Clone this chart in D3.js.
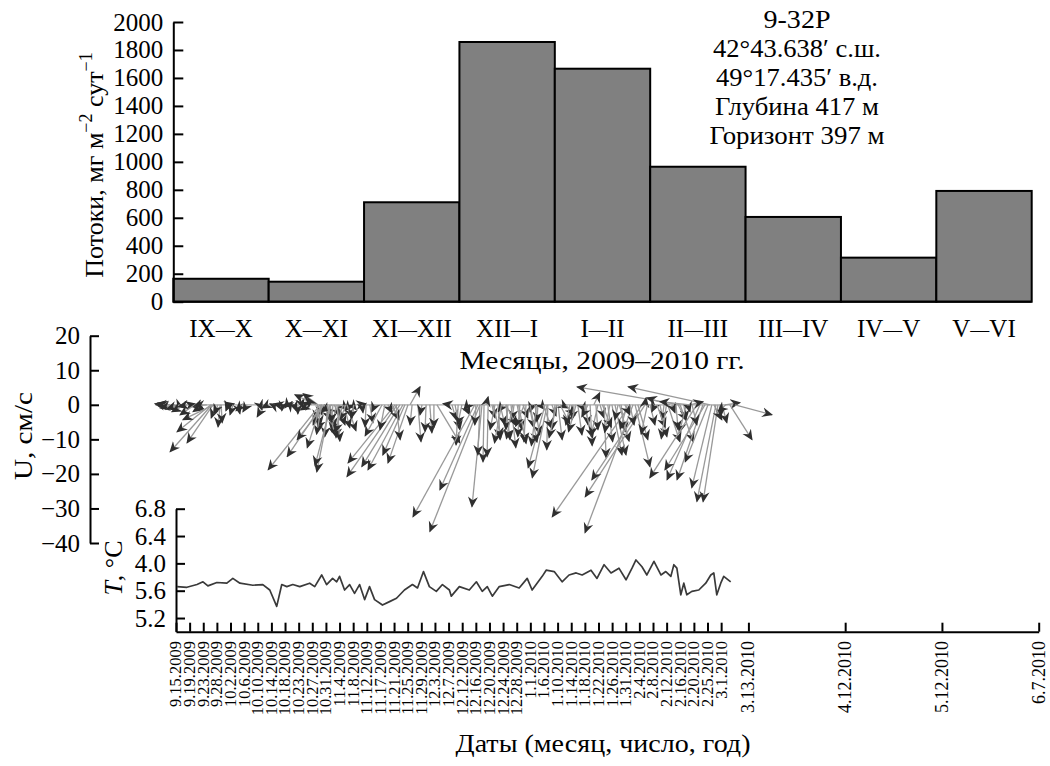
<!DOCTYPE html>
<html>
<head>
<meta charset="utf-8">
<script src="https://cdn.jsdelivr.net/npm/d3@7"></script>
<style>
  html, body { margin: 0; padding: 0; background: #fff; }
  svg { display: block; }
  text { font-family: "Liberation Serif", "Times New Roman", serif; fill: #000; }
</style>
</head>
<body>
<div id="chart"></div>
<script>
// ---------------- DATA ----------------
const categories = ["IX–X", "X–XI", "XI–XII", "XII–I", "I–II", "II–III", "III–IV", "IV–V", "V–VI"];
const fluxValues = [164, 143, 711, 1857, 1666, 965, 606, 315, 792];
const fluxTicks = [0, 200, 400, 600, 800, 1000, 1200, 1400, 1600, 1800, 2000];

const stationLines = ["9-32P", "42°43.638′ с.ш.", "49°17.435′ в.д.", "Глубина 417 м", "Горизонт 397 м"];
const stationWidths = [67, 168, 162, 164, 175];

const uTicks = [20, 10, 0, -10, -20, -30, -40];

const tTickValues = [5.2, 5.6, 6.0, 6.4, 6.8];
const tTickLabels = ["5.2", "5.6", "4.0", "6.4", "6.8"];

const dateLabels = ["9.15.2009","9.19.2009","9.23.2009","9.28.2009","10.2.2009","10.6.2009","10.10.2009",
  "10.14.2009","10.18.2009","10.23.2009","10.27.2009","10.31.2009","11.4.2009","11.8.2009","11.12.2009",
  "11.17.2009","11.21.2009","11.25.2009","11.29.2009","12.3.2009","12.7.2009","12.12.2009","12.16.2009",
  "12.20.2009","12.24.2009","12.28.2009","1.1.2010","1.6.2010","1.10.2010","1.14.2010","1.18.2010",
  "1.22.2010","1.26.2010","1.31.2010","2.4.2010","2.8.2010","2.12.2010","2.16.2010","2.20.2010",
  "2.25.2010","3.1.2010","3.13.2010","4.12.2010","5.12.2010","6.7.2010"];
const datePositions = [0,1,2,3,4,5,6,7,8,9,10,11,12,13,14,15,16,17,18,19,20,21,22,23,24,25,26,27,28,29,30,
  31,32,33,34,35,36,37,38,39,40,42,49.1,56.2,63.3];

// temperature: [date-axis position, T °C]
const tempSeries = [
  [0.07,5.66],[0.8,5.65],[1.54,5.69],[1.98,5.73],[2.34,5.67],[3.0,5.72],[3.73,5.71],[4.17,5.78],[4.69,5.71],
  [5.64,5.68],[6.37,5.69],[6.88,5.61],[7.39,5.37],[7.76,5.69],[8.13,5.66],[8.57,5.69],[9.08,5.66],[9.81,5.71],
  [10.18,5.66],[10.69,5.83],[11.05,5.69],[11.49,5.78],[11.79,5.73],[12.0,5.81],[12.37,5.61],[12.74,5.69],
  [13.1,5.56],[13.47,5.69],[13.84,5.47],[14.2,5.66],[14.57,5.47],[15.15,5.39],[15.67,5.44],[16.18,5.49],
  [16.76,5.61],[17.35,5.69],[17.72,5.64],[18.16,5.88],[18.59,5.66],[19.1,5.59],[19.55,5.69],[20.06,5.61],
  [20.2,5.52],[20.79,5.66],[21.52,5.61],[22.04,5.73],[22.47,5.59],[22.84,5.66],[23.21,5.52],[23.72,5.66],
  [24.45,5.69],[25.18,5.64],[25.77,5.78],[26.13,5.61],[26.87,5.81],[27.16,5.9],[27.75,5.88],[28.33,5.73],
  [28.84,5.83],[29.36,5.86],[29.8,5.83],[30.45,5.9],[30.89,5.78],[31.41,5.98],[31.92,5.86],[32.5,5.93],
  [33.02,5.76],[33.46,5.93],[33.75,6.05],[34.19,5.95],[34.55,5.83],[35.07,6.03],[35.58,5.83],[35.94,5.88],
  [36.31,5.81],[36.53,5.98],[36.75,5.93],[37.04,5.54],[37.26,5.71],[37.48,5.54],[37.85,5.59],[38.36,5.61],
  [38.87,5.71],[39.24,5.83],[39.46,5.86],[39.68,5.54],[39.97,5.71],[40.19,5.81],[40.7,5.73]
];

// current vectors: [day from start of record, U east cm/s, V north cm/s]
const currentVectors = [
  [1.5,-1.5,0.3],[2.9,-2.0,0.6],[4.4,-3.8,0],[5.9,-4.3,-0.9],[6.6,1.5,-0.8],[7.3,-3.8,-1.2],[8.8,-3.8,-2.0],
  [9.5,-2.5,-0.5],[10.3,1.4,0.3],[11.7,-4.3,-2.9],[12.4,1.8,-1.5],
  [13.2,-2.0,-0.6],[14.1,-2.9,-2.0],[15.2,-3.5,-0.3],[16.4,-9.8,-7.8],[16.7,-12.1,-13.6],[17.0,-7.5,-11.0],
  [17.3,-9.0,-4.3],[17.9,-1.4,-3.8],[19.1,-0.6,-6.4],[19.4,0.3,-5.2],[18.5,-1.2,-2.6],[21.4,-0.6,-1.7],
  [22.0,1.2,0.3],[22.9,-0.9,-2.9],[24.3,0.6,-2.6],[25.5,-1.7,-1.7],[27.0,-1.2,-2.0],[32.0,-2.0,-3.5],
  [30.8,0.6,-1.4],[33.1,-1.7,-0.9],[34.3,-0.6,0.3],[36.1,-1.2,0.3],[37.5,-0.3,-1.7],[38.7,-0.6,-0.9],
  [39.6,0.6,0.9],[40.8,0.6,-1.7],[41.9,0,-2.6],[43.1,0.3,-0.9],[44.5,1.5,0.8],[45.2,-2.5,-1.5],
  [47.2,-6.1,2.9],[47.8,-4.3,3.2],[46.0,-1.2,2.0],
  [47.8,-0.6,-4.3],[48.4,0.6,-2.9],[49.0,-2.6,-5.8],[49.6,1.7,-4.3],[50.1,-2.3,-7.2],[50.7,-0.9,-9.2],
  [51.3,1.4,-6.6],[51.9,-2.9,-2.0],[52.5,1.7,-3.2],[53.1,-1.2,-7.8],[53.7,2.0,-5.8],[54.3,-1.2,-9.5],
  [54.8,1.7,-1.4],[55.4,1.7,-6.6],[56.0,-1.7,-4.3],[56.6,1.2,-3.8],[57.2,-1.4,-1.7],[57.8,1.2,-1.4],
  [47.5,1.0,-6.0],[48.9,-1.5,-8.5],[50.4,2.5,-9.0],[52.2,-0.5,-5.0],[53.4,0.8,-10.5],[55.1,-2.2,-8.0],
  [56.3,2.6,-7.5],[58.3,-0.8,-4.0],
  [48.4,-15.0,-18.8],[49.0,-10.1,-15.0],[48.7,-4.0,-12.4],[51.3,-3.8,-19.4],[51.6,-4.6,-17.6],[49.6,-7.8,-10.1],
  [59.5,2.3,0.3],[60.7,0.3,-2.3],[61.9,-0.3,-6.4],[63.0,0.9,-5.2],[64.5,-0.9,-2.0],[70.4,-13.6,-16.8],
  [71.0,-14.5,-20.8],[71.8,-11.0,-17.9],[72.7,-10.1,-18.8],[73.3,-6.4,-14.5],[74.2,-5.8,-16.8],[74.8,2.9,5.2],
  [68.3,1.2,-2.3],[69.5,2.0,-4.3],[70.7,1.2,-10.1],[75.4,-0.6,-5.8],[77.1,0.9,-10.7],[78.3,-0.6,-2.9],
  [79.5,-0.3,-7.8],[80.6,0.6,-8.1],[81.8,0,-6.6],[67.4,-1.4,-7.2],[66.6,-4.9,-9.0],[82.7,6.6,-11.0],
  [86.5,-2.0,0.3],[87.1,1.2,-4.3],[88.0,1.4,-7.2],[88.9,-0.6,-11.6],[90.0,-1.2,-5.8],[90.9,1.4,-2.9],
  [91.8,-1.2,-1.4],[93.8,-17.9,-32.4],[95.3,-14.5,-36.7],[94.7,-11.0,-24.6],[95.9,-2.9,-29.5],[97.1,0.6,2.3],
  [95.3,-0.6,-14.5],[96.5,-0.3,-16.5],[97.7,-0.3,-15.0],[94.1,-0.3,-5.8],[98.8,0.9,-3.8],[99.7,-1.4,-7.2],
  [100.6,0.6,-10.1],[101.2,1.4,-5.8],[102.1,-1.4,-2.0],[102.9,1.2,-10.1],[103.5,-0.6,-7.2],[104.4,1.4,-12.4],
  [105.3,-0.6,-4.3],[106.2,1.4,-7.2],[107.0,-0.6,-9.2],[107.9,1.4,-3.8],[108.8,-0.6,-10.7],[109.7,1.4,-6.6],
  [110.6,-0.6,-2.0],[111.4,1.4,-8.7],[112.3,-0.3,-4.9],[113.2,1.2,-1.4],[114.4,-4.9,-18.2],[115.0,-4.3,-21.1],
  [115.2,-0.3,-13.0],[116.4,1.2,-3.2],[117.3,-0.9,-7.2],[118.2,1.2,-10.1],[119.4,1.7,-0.9],
  [99.2,2.2,-9.5],[101.6,-2.0,-11.0],[103.0,2.8,-6.0],[104.9,-1.8,-9.8],[106.6,2.2,-11.2],[108.3,-2.5,-6.2],
  [110.0,2.0,-10.8],[111.9,-1.5,-11.8],[113.8,2.5,-6.8],[117.8,-2.2,-9.5],[118.8,2.8,-5.5],
  [139.3,-22.5,-32.4],
  [120.5,2.6,-2.9],[121.7,-1.2,-5.8],[154.0,-29.8,5.2],[162.8,-23.7,5.2],[122.9,-0.6,-4.3],[124.0,1.2,-8.7],
  [125.2,0.9,-2.0],[126.4,0.6,-5.8],[127.6,0.6,-11.8],[128.7,1.7,3.5],[129.3,0.6,-7.2],[130.5,1.2,-3.8],
  [131.7,0.6,-15.3],[132.8,1.4,-10.7],[134.0,2.9,-14.5],[134.9,3.2,-14.5],[135.8,-0.9,-4.3],[136.7,1.2,-7.8],
  [123.5,-2.2,-7.8],[125.8,2.5,-9.5],[127.0,-1.8,-3.5],[129.9,-2.0,-9.0],[131.2,2.6,-6.5],[133.4,-1.5,-8.0],
  [136.2,2.8,-10.5],[138.5,-2.0,-7.0],
  [140.2,-13.9,-37.0],[143.7,-17.3,-26.6],[142.8,-14.5,-21.7],[140.8,4.3,-17.9],[137.8,1.4,-2.9],
  [139.3,1.2,-5.8],[141.6,2.9,-10.1],[143.7,0.3,2.0],[145.2,1.4,-5.8],[146.6,-0.9,-2.0],[148.1,2.0,-9.2],
  [149.3,-0.6,-4.3],[150.4,3.5,-10.7],[151.6,0.9,-2.3],[152.8,0.6,-7.2],[154.0,3.8,-10.7],[155.1,0.6,-4.3],
  [144.4,-1.8,-8.5],[147.2,2.4,-6.5],[150.0,-1.5,-9.8],[153.4,2.4,-4.5],[155.8,-2.0,-8.0],
  [158.9,-13.6,-21.1],[159.8,-9.5,-21.7],[160.7,-7.5,-21.7],[161.3,-11.6,-18.8],[162.2,-6.6,-16.5],
  [163.3,-5.8,-24.0],[164.5,-5.5,-28.0],[165.1,-4.3,-28.0],[156.9,3.8,0.9],[167.2,4.3,0.6],[168.6,6.4,-10.1],
  [166.3,1.4,-5.2],[165.7,0,-3.8],[170.1,10.7,-2.9],[156.3,0.6,-2.0],[157.5,1.4,-5.8],[167.4,-2.3,-2.0],
  [163.9,2.3,-4.3],[151.0,-6.6,2.0],[156.9,-8.7,0.9]
];

// ---------------- DRAW ----------------
const W = 1050, H = 766;
const svg = d3.select("#chart").append("svg").attr("width", W).attr("height", H);

const FONT = 25;

// ---- Top: flux histogram ----
const yFlux = d3.scaleLinear().domain([0, 2000]).range([301.7, 22]);
const xCat = d3.scaleBand().domain(categories).range([173.3, 1031.7]).padding(0);

svg.append("g").selectAll("rect").data(fluxValues).join("rect")
  .attr("x", (d, i) => xCat(categories[i]))
  .attr("y", d => yFlux(d))
  .attr("width", xCat.bandwidth())
  .attr("height", d => yFlux(0) - yFlux(d))
  .attr("fill", "#808080")
  .attr("stroke", "#000")
  .attr("stroke-width", 2);

function styleAxis(g, fs) {
  g.selectAll("path.domain").attr("stroke", "#000").attr("stroke-width", 2);
  g.selectAll(".tick line").attr("stroke", "#000").attr("stroke-width", 2);
  g.selectAll(".tick text").style("font-family", '"Liberation Serif", "Times New Roman", serif')
    .style("font-size", fs + "px").attr("fill", "#000");
}

const gFlux = svg.append("g").attr("transform", "translate(173.3,0)")
  .call(d3.axisLeft(yFlux).tickValues(fluxTicks).tickSize(-10).tickSizeOuter(0).tickPadding(10).tickFormat(d3.format("d")));
styleAxis(gFlux, FONT);

svg.append("line").attr("x1", 173.3).attr("x2", 1031.7).attr("y1", yFlux(0)).attr("y2", yFlux(0))
  .attr("stroke", "#000").attr("stroke-width", 2);

// category labels: the dash drawn as a short em dash so it is long like the original
const catText = svg.append("g").selectAll("text").data(categories).join("text")
  .attr("x", d => xCat(d) + xCat.bandwidth() / 2)
  .attr("y", 337)
  .attr("text-anchor", "middle")
  .style("font-size", FONT + "px");
catText.each(function(d) {
  const parts = d.split("–");
  const t = d3.select(this);
  t.append("tspan").text(parts[0]);
  t.append("tspan").attr("dy", -1.5).style("font-size", "19px").text("—");
  t.append("tspan").attr("dy", 1.5).text(parts[1]);
});

svg.append("text").attr("x", 602).attr("y", 369).attr("text-anchor", "middle")
  .attr("textLength", 285).attr("lengthAdjust", "spacingAndGlyphs")
  .style("font-size", FONT + "px").text("Месяцы, 2009–2010 гг.");

svg.append("g").selectAll("text").data(stationLines).join("text")
  .attr("x", 797).attr("y", (d, i) => 28 + i * 29)
  .attr("textLength", (d, i) => stationWidths[i]).attr("lengthAdjust", "spacingAndGlyphs")
  .attr("text-anchor", "middle").style("font-size", "26px").text(d => d);

// flux y title
const fluxTitle = svg.append("text")
  .attr("transform", "translate(103,165) rotate(-90)")
  .attr("text-anchor", "middle").style("font-size", "26px");
fluxTitle.append("tspan").text("Потоки, мг м");
fluxTitle.append("tspan").attr("dy", -11).style("font-size", "18px").text("−2");
fluxTitle.append("tspan").attr("dy", 11).text(" сут");
fluxTitle.append("tspan").attr("dy", -11).style("font-size", "18px").text("−1");

// ---- Current stick plot ----
const uScale = d3.scaleLinear().domain([-40, 20]).range([543, 335.7]);
const gU = svg.append("g").attr("transform", "translate(90,0)")
  .call(d3.axisLeft(uScale).tickValues(uTicks).tickSize(-9).tickSizeOuter(0).tickPadding(10));
styleAxis(gU, FONT);

svg.append("text").attr("transform", "translate(32,436) rotate(-90)")
  .attr("textLength", 88).attr("lengthAdjust", "spacingAndGlyphs")
  .attr("text-anchor", "middle").style("font-size", "26px").text("U, см/с");

const xStick = d3.scaleLinear().domain([0, 170.1]).range([155, 735]);
const k = uScale(0) - uScale(1);

const defs = svg.append("defs");
defs.append("marker").attr("id", "ah")
  .attr("viewBox", "0 0 10 10").attr("refX", 9).attr("refY", 5)
  .attr("markerWidth", 11).attr("markerHeight", 11)
  .attr("markerUnits", "userSpaceOnUse").attr("orient", "auto")
  .append("path").attr("d", "M0,0.5 L10,5 L0,9.5 L3.2,5 Z").attr("fill", "#2f2f2f");

svg.append("line").attr("x1", xStick(0)).attr("x2", xStick(170.1))
  .attr("y1", uScale(0)).attr("y2", uScale(0))
  .attr("stroke", "#a8a8a8").attr("stroke-width", 1.3);

svg.append("g").selectAll("line").data(currentVectors).join("line")
  .attr("x1", d => xStick(d[0]))
  .attr("y1", uScale(0))
  .attr("x2", d => xStick(d[0]) + d[1] * k)
  .attr("y2", d => uScale(d[2]))
  .attr("stroke", "#999")
  .attr("stroke-width", 1.3)
  .attr("marker-end", "url(#ah)");

// ---- Temperature ----
const xDate = d3.scaleLinear().domain([0, 63.3]).range([176, 1038.7]);
const tScale = d3.scaleLinear().domain([5.0, 6.8]).range([631.7, 508.7]);

const gT = svg.append("g").attr("transform", "translate(176,0)")
  .call(d3.axisLeft(tScale).tickValues(tTickValues).tickFormat((d, i) => tTickLabels[i])
    .tickSize(-9).tickSizeOuter(0).tickPadding(10));
styleAxis(gT, FONT);

const tTitle = svg.append("text").attr("transform", "translate(122,568) rotate(-90)")
  .attr("text-anchor", "middle").style("font-size", "26px");
tTitle.append("tspan").style("font-style", "italic").text("T");
tTitle.append("tspan").text(", °C");

svg.append("path").datum(tempSeries)
  .attr("d", d3.line().x(d => xDate(d[0])).y(d => tScale(d[1])))
  .attr("fill", "none").attr("stroke", "#3a3a3a").attr("stroke-width", 1.7)
  .attr("stroke-linejoin", "round");

const gDate = svg.append("g").attr("transform", `translate(0,${tScale(5.0)})`)
  .call(d3.axisBottom(xDate).tickValues(datePositions).tickSize(-9).tickSizeOuter(0).tickFormat(""));
styleAxis(gDate, 16);

svg.append("g").selectAll("text").data(dateLabels).join("text")
  .attr("transform", (d, i) => {
    const fs = i > 40 ? 18 : 16.5;
    return `translate(${xDate(datePositions[i]) + fs * 0.33},641) rotate(-90)`;
  })
  .attr("text-anchor", "end")
  .style("font-size", (d, i) => (i > 40 ? 18 : 16.5) + "px")
  .text(d => d);

svg.append("text").attr("x", 603).attr("y", 752).attr("text-anchor", "middle")
  .attr("textLength", 295).attr("lengthAdjust", "spacingAndGlyphs")
  .style("font-size", "26px").text("Даты (месяц, число, год)");
</script>
</body>
</html>
